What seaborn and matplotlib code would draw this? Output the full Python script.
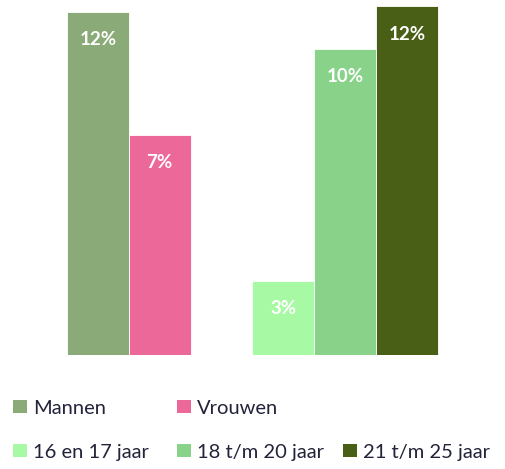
import matplotlib
matplotlib.use("Agg")
import matplotlib.pyplot as plt
from matplotlib.patches import Patch
import seaborn as sns
import pandas as pd

# Data
categories = ["Mannen", "Vrouwen", "16 en 17 jaar", "18 t/m 20 jaar", "21 t/m 25 jaar"]
values = [12.0, 7.7, 2.6, 10.7, 12.2]
value_labels = ["12%", "7%", "3%", "10%", "12%"]
positions = [0, 1, 3, 4, 5]
colors = ["#8aab78", "#ec6898", "#a7f9a4", "#88d28a", "#4a5f16"]

sns.set_theme(style="white")
plt.rcParams["font.family"] = ["Lato", "DejaVu Sans"]

df = pd.DataFrame({"cat": categories, "val": values, "pos": positions})

fig = plt.figure(figsize=(5.05, 4.69), dpi=100)
ax = fig.add_axes([0, (469 - 355) / 469, 1, 355 / 469])

sns.barplot(data=df, x="pos", y="val", hue="cat", hue_order=categories,
            palette=colors, native_scale=True, width=1.0, dodge=False,
            legend=False, ax=ax, saturation=1, linewidth=0.6, edgecolor="white")

ax.set_xlim(-0.5 - 67 / 61.8, -0.5 + 438 / 61.8)
ax.set_ylim(0, 355 / 28.6)
ax.axis("off")

for p, v, lab in zip(positions, values, value_labels):
    ax.annotate(lab, xy=(p, v), xytext=(0, -28 * 72 / 100), textcoords="offset points",
                ha="center", va="center", color="white", fontsize=13.5,
                fontweight="bold")

# Legends
entries = [
    ("Mannen", colors[0], 13, 408),
    ("Vrouwen", colors[1], 177, 408),
    ("16 en 17 jaar", colors[2], 13, 452),
    ("18 t/m 20 jaar", colors[3], 177, 452),
    ("21 t/m 25 jaar", colors[4], 343, 452),
]
for lab, col, x, y in entries:
    leg = fig.legend(handles=[Patch(facecolor=col, edgecolor="none")], labels=[lab],
                     loc="center left", bbox_to_anchor=(x / 505, 1 - y / 469),
                     frameon=False, borderpad=0, borderaxespad=0,
                     handlelength=0.68, handleheight=0.68, handletextpad=0.3,
                     prop={"size": 14.5})
    for t in leg.get_texts():
        t.set_color("#23233a")

fig.savefig("out.png", dpi=100)
